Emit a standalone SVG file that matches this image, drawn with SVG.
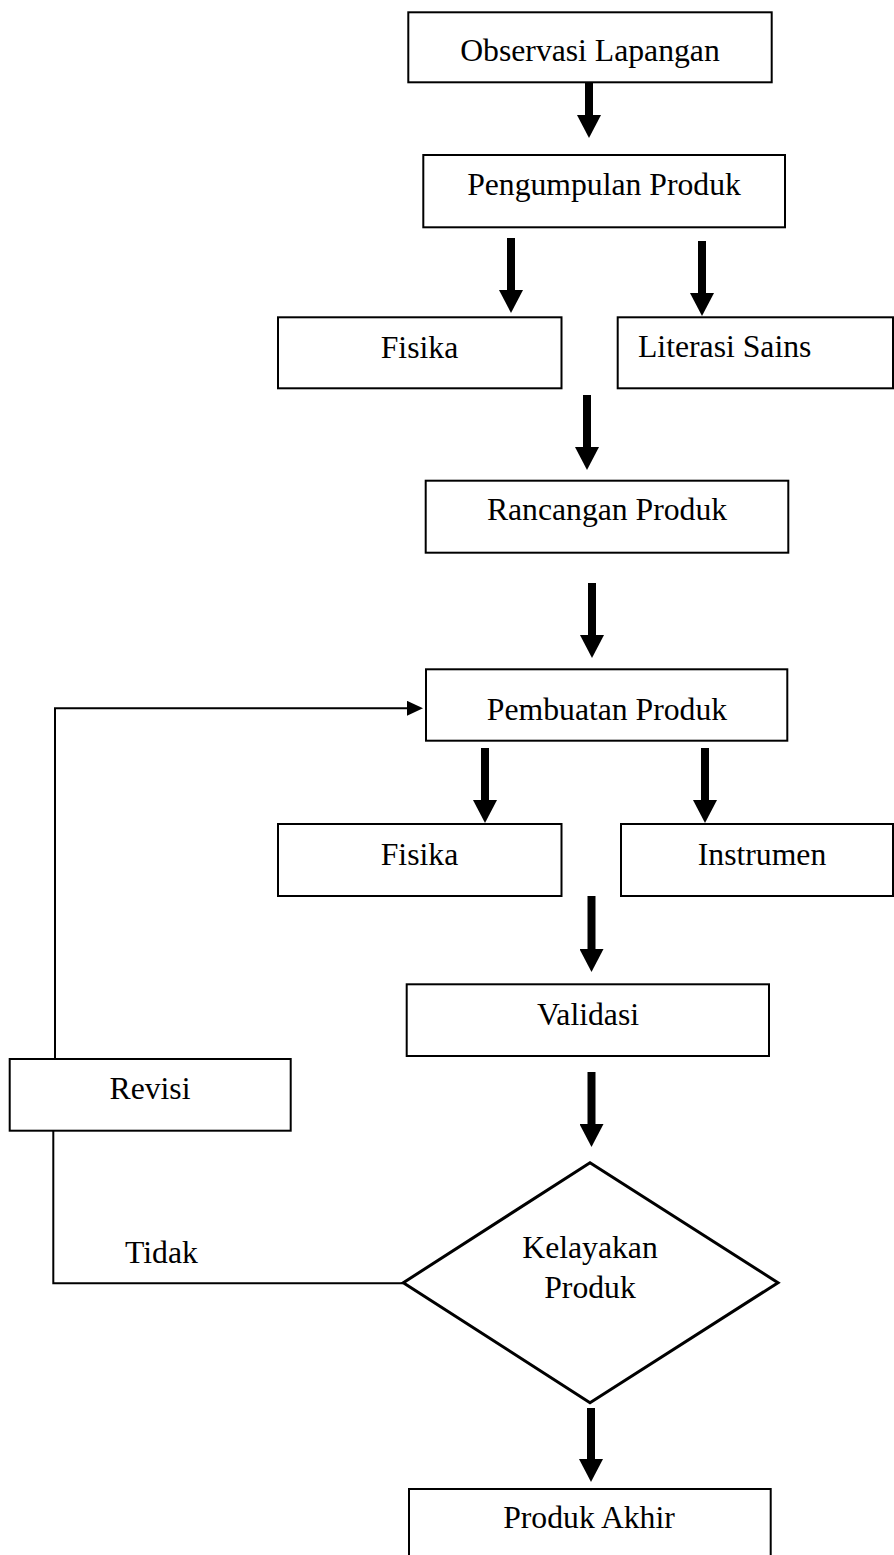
<svg xmlns="http://www.w3.org/2000/svg" width="894" height="1555" viewBox="0 0 894 1555">
<style>
.box{fill:#fff;stroke:#000;stroke-width:2}
.dia{fill:#fff;stroke:#000;stroke-width:3;stroke-linejoin:miter}
.t{font-family:"Liberation Serif","Times New Roman",serif;font-size:31.7px;fill:#000}
.c{text-anchor:middle}
.big{stroke:#000;stroke-width:8;fill:none}
.thin{stroke:#000;stroke-width:2;fill:none}
</style>
<defs>
<marker id="bigHead" markerUnits="userSpaceOnUse" markerWidth="23" markerHeight="24" viewBox="0 0 23 24" refX="1" refY="12" orient="auto">
<path d="M0,0 L23,12 L0,24 Z" fill="#000"/>
</marker>
<marker id="thinHead" markerUnits="userSpaceOnUse" markerWidth="16" markerHeight="15" viewBox="0 0 16 15" refX="0" refY="7.5" orient="auto">
<path d="M0,0 L16,7.5 L0,15 Z" fill="#000"/>
</marker>
</defs>
<rect width="894" height="1555" fill="#fff"/>

<g id="connectors">
<line class="big" x1="589" y1="83" x2="589" y2="116" marker-end="url(#bigHead)"/>
<line class="big" x1="511" y1="238" x2="511" y2="291" marker-end="url(#bigHead)"/>
<line class="big" x1="702" y1="241" x2="702" y2="294" marker-end="url(#bigHead)"/>
<line class="big" x1="587" y1="395" x2="587" y2="448" marker-end="url(#bigHead)"/>
<line class="big" x1="592" y1="583" x2="592" y2="636" marker-end="url(#bigHead)"/>
<line class="big" x1="485" y1="748" x2="485" y2="801" marker-end="url(#bigHead)"/>
<line class="big" x1="705" y1="748" x2="705" y2="801" marker-end="url(#bigHead)"/>
<line class="big" x1="591.5" y1="896" x2="591.5" y2="950" marker-end="url(#bigHead)"/>
<line class="big" x1="591.5" y1="1072" x2="591.5" y2="1125" marker-end="url(#bigHead)"/>
<line class="big" x1="591" y1="1408" x2="591" y2="1460" marker-end="url(#bigHead)"/>
<polyline class="thin" points="55,1059 55,708.3 407,708.3" marker-end="url(#thinHead)"/>
<polyline class="thin" points="53.3,1131 53.3,1283.3 403,1283.3"/>
</g>

<g id="observasi">
<rect class="box" x="408.3" y="12.3" width="363.4" height="70"/>
<text class="t c" x="590" y="61">Observasi Lapangan</text>
</g>
<g id="pengumpulan">
<rect class="box" x="423.3" y="155" width="361.7" height="72.3"/>
<text class="t c" x="604" y="195">Pengumpulan Produk</text>
</g>
<g id="fisika1">
<rect class="box" x="278" y="317.3" width="283.5" height="71"/>
<text class="t c" x="419.5" y="357.5">Fisika</text>
</g>
<g id="literasi">
<rect class="box" x="617.7" y="317.3" width="275.3" height="71"/>
<text class="t" x="638" y="357">Literasi Sains</text>
</g>
<g id="rancangan">
<rect class="box" x="425.7" y="480.7" width="362.6" height="72"/>
<text class="t c" x="607" y="520">Rancangan Produk</text>
</g>
<g id="pembuatan">
<rect class="box" x="426" y="669.3" width="361.3" height="71.4"/>
<text class="t c" x="607" y="720">Pembuatan Produk</text>
</g>
<g id="fisika2">
<rect class="box" x="278" y="824" width="283.5" height="72"/>
<text class="t c" x="419.5" y="865">Fisika</text>
</g>
<g id="instrumen">
<rect class="box" x="621" y="824" width="272" height="72"/>
<text class="t c" x="762" y="865">Instrumen</text>
</g>
<g id="validasi">
<rect class="box" x="406.7" y="984.3" width="362.3" height="71.7"/>
<text class="t c" x="588" y="1025">Validasi</text>
</g>
<g id="revisi">
<rect class="box" x="9.7" y="1059" width="281" height="71.7"/>
<text class="t c" x="150" y="1099">Revisi</text>
</g>
<g id="tidak-label">
<text class="t" x="125" y="1263">Tidak</text>
</g>
<g id="kelayakan">
<polygon class="dia" points="590,1162.7 778,1282.7 590,1402.7 403.3,1282.7"/>
<text class="t c" x="590" y="1257.7">Kelayakan</text>
<text class="t c" x="590" y="1298">Produk</text>
</g>
<g id="produk-akhir">
<rect class="box" x="409" y="1489" width="361.7" height="80"/>
<text class="t c" x="589" y="1528">Produk Akhir</text>
</g>
</svg>
